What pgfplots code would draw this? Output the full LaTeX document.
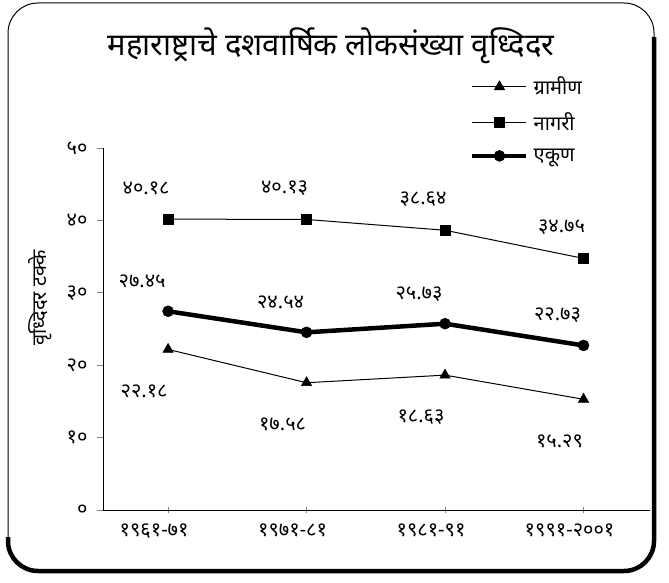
\documentclass[border=0pt]{standalone}
\usepackage{fontspec}
\usepackage{pgfplots}
\pgfplotsset{compat=1.18}
\newfontfamily\dev[Script=Devanagari]{Noto Sans}
\begin{document}
\begin{tikzpicture}[x=1pt,y=1pt]
\useasboundingbox (0,0) rectangle (669,582);
% frame
\draw[line width=1pt, rounded corners=30pt] (8,11) rectangle (654,579);
\draw[line width=4.5pt, rounded corners=30pt] (654,545) -- (654,11) -- (8,11) -- (8,45);
% title
\node[font=\dev\fontsize{31}{34}\selectfont] at (331,536) {महाराष्ट्राचे दशवार्षिक लोकसंख्या वृध्दिदर};
% y label
\node[font=\dev\fontsize{20}{22}\selectfont, rotate=90] at (40,284) {वृध्दिदर टक्के};
\begin{axis}[
  scale only axis, width=547pt, height=362pt,
  anchor=south west, at={(103pt,72pt)},
  axis x line=bottom, axis y line=left,
  axis line style={-, line width=0.9pt},
  xmin=-0.47, xmax=3.48, ymin=0, ymax=50,
  xtick={0,1,2,3},
  xticklabels={१९६१-७१,१९७१-८१,१९८१-९१,१९९१-२००१},
  ytick={0,10,20,30,40,50},
  yticklabels={०,१०,२०,३०,४०,५०},
  x tick style={line width=0.8pt}, y tick style={line width=0.8pt},
  major tick length=6pt,
  xtick align=center, ytick align=outside,
  tick label style={font=\dev\fontsize{20}{20}\selectfont, black},
  xticklabel style={yshift=-7pt, xshift=-14pt},
  yticklabel style={xshift=-6pt},
  clip=false,
  legend style={at={(0.671,1.202)}, anchor=north west, draw=none, fill=none,
    font=\dev\fontsize{20}{20}\selectfont, row sep=12.5pt, inner sep=0pt,
    column sep=3pt},
  legend cell align=left,
  legend image code/.code={\draw[mark repeat=2,mark phase=2,#1] plot coordinates {(0pt,0pt) (27pt,0pt) (54pt,0pt)};},
  point meta=explicit symbolic,
]
\addplot[black, line width=1pt, mark=triangle*, mark size=6pt, mark options={solid, line width=0.5pt},
  nodes near coords={\pgfplotspointmeta},
  every node near coord/.append style={font=\dev\fontsize{20}{20}\selectfont, anchor=center, yshift=-42pt, xshift=-24pt}]
  coordinates {(0,22.18) [२२.१८] (1,17.58) [१७.५८] (2,18.63) [१८.६३] (3,15.29) [१५.२९]};
\addlegendentry{ग्रामीण}
\addplot[black, line width=1pt, mark=square*, mark size=5pt, mark options={solid, line width=0.5pt},
  nodes near coords={\pgfplotspointmeta},
  every node near coord/.append style={font=\dev\fontsize{20}{20}\selectfont, anchor=center, yshift=31pt, xshift=-22pt}]
  coordinates {(0,40.18) [४०.१८] (1,40.13) [४०.१३] (2,38.64) [३८.६४] (3,34.75) [३४.७५]};
\addlegendentry{नागरी}
\addplot[black, line width=4.5pt, mark=*, mark size=5.5pt, mark options={solid, line width=0.5pt},
  nodes near coords={\pgfplotspointmeta},
  every node near coord/.append style={font=\dev\fontsize{20}{20}\selectfont, anchor=center, yshift=30pt, xshift=-26pt}]
  coordinates {(0,27.45) [२७.४५] (1,24.54) [२४.५४] (2,25.73) [२५.७३] (3,22.73) [२२.७३]};
\addlegendentry{एकूण}
\end{axis}
\end{tikzpicture}
\end{document}
